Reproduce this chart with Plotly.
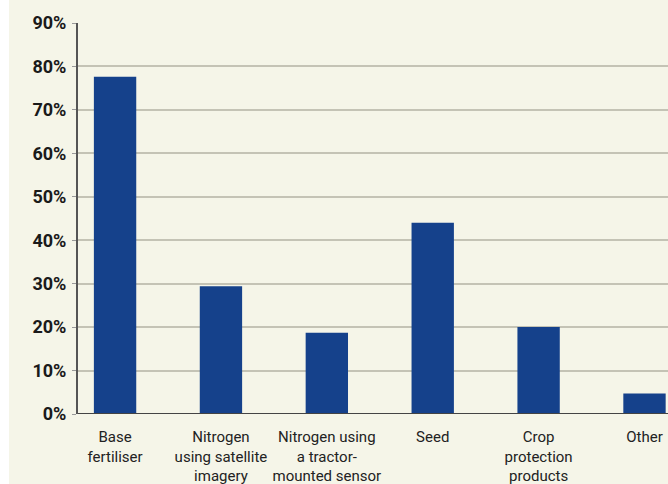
import plotly.graph_objects as go

categories = ["Base<br>fertiliser", "Nitrogen<br>using satellite<br>imagery",
              "Nitrogen using<br>a tractor-<br>mounted sensor", "Seed",
              "Crop<br>protection<br>products", "Other"]
values = [77.6, 29.4, 18.7, 44.0, 20.0, 4.7]
y_ticks = [0, 10, 20, 30, 40, 50, 60, 70, 80, 90]
y_tick_labels = [f"{v}%" for v in y_ticks]

W, H = 668, 484
L, R, T, B = 78, 0, 23, 70
pw = W - L - R

bg = "#f5f5e8"
fig = go.Figure(go.Bar(x=list(range(len(categories))), y=values,
                       marker=dict(color="#15418b", line=dict(width=0)),
                       width=0.4))
fig.update_layout(
    width=W, height=H, margin=dict(l=L, r=R, t=T, b=B, autoexpand=False),
    paper_bgcolor=bg, plot_bgcolor=bg, showlegend=False,
    font=dict(family="Roboto", color="#1a1a1a"),
    xaxis=dict(range=[-0.35, 5.222], tickmode="array",
               tickvals=list(range(len(categories))), ticktext=categories,
               showgrid=False, zeroline=False, showline=False, automargin=False,
               ticks="", tickfont=dict(size=15, family="Roboto", color="#222"),
               ticklabelstandoff=12, fixedrange=True),
    yaxis=dict(range=[0, 90], tickmode="array", tickvals=y_ticks,
               ticktext=y_tick_labels, showgrid=True, gridcolor="#c4c3b5",
               gridwidth=1.5, zeroline=False, showline=True, automargin=False,
               linecolor="#555555", linewidth=2, ticks="outside", ticklen=4,
               tickcolor="#999999",
               tickfont=dict(size=18, family="Roboto", weight="bold", color="#1a1a1a"),
               ticklabelstandoff=2, fixedrange=True),
    shapes=[dict(type="rect", xref="paper", yref="paper",
                 x0=-L / pw, x1=-(L - 9) / pw, y0=-B / (H - T - B),
                 y1=1 + T / (H - T - B), fillcolor="white",
                 line=dict(width=0), layer="below"),
            dict(type="line", xref="paper", yref="y", x0=0, x1=1, y0=0, y1=0,
                 line=dict(color="#444444", width=2))],
)
fig.write_html("out.html")
